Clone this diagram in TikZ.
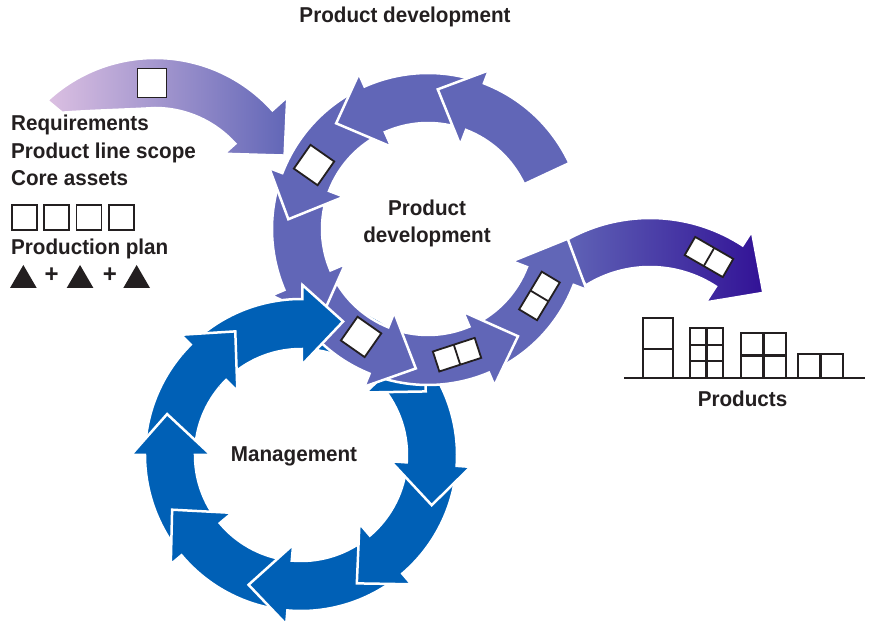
\documentclass[tikz,border=0pt]{standalone}
\usepackage{fontspec}
\setmainfont{Liberation Sans}[FakeStretch=0.96]
\definecolor{devpurple}{HTML}{6166B7}
\definecolor{mgmtblue}{HTML}{0060B6}
\definecolor{inlight}{HTML}{DCC0E2}
\definecolor{outdark}{HTML}{321296}
\definecolor{ink}{HTML}{231F20}

% one arrow piece of a ring: tail angle, head base angle, tip angle, colour
\newcommand{\ringseg}[4]{%
  \filldraw[seg, fill=#4] (#1:156) arc[start angle=#1, end angle=#2, radius=156]
    -- (#2:170) -- (#3:140) -- (#2:90) -- (#2:106)
    arc[start angle=#2, end angle=#1, radius=106] -- cycle;}

\begin{document}
\begin{tikzpicture}[x=1pt, y=1pt,
    seg/.style={draw=white, line width=2.5pt, line join=miter},
    cell/.style={draw=ink, fill=white, line width=1.8pt},
    bar/.style={draw=ink, line width=2.3pt},
    lbl/.style={font=\fontsize{21.5}{27}\selectfont\bfseries, text=ink, inner sep=0pt},
    plus/.style={font=\fontsize{25}{27}\selectfont\bfseries, text=ink, inner sep=0pt},
    sq/.pic={\draw[cell] (-14.5,-14.5) rectangle (14.5,14.5);},
    pair/.pic={\draw[cell] (-22,-10.5) rectangle (22,10.5); \draw[cell] (0,-10.5) -- (0,10.5);}]
  \fill[white] (0,0) rectangle (870,632);
  \useasboundingbox (0,0) rectangle (870,632);

  % management ring, clockwise, the pieces under the other ring
  \begin{scope}[shift={(301,177)}]
    \foreach \t/\b/\e in {176/135/118, 216/180/163, -99/-140/-157, -53.5/-95/-112,
                          -8/-49.5/-66.5, 40/-4/-21, 85.5/44/27}
      \ringseg{\t}{\b}{\e}{mgmtblue};
  \end{scope}

  % incoming arrow
  \begin{scope}[shift={(155,416)}]
    \path[seg, left color=inlight, right color=devpurple]
      (133:158) arc[start angle=133, end angle=42, radius=158]
      -- (42:178) -- (25:143) -- (42:93) -- (42:108)
      arc[start angle=42, end angle=90, radius=108]
      .. controls (105:110) and (120:122) .. (132:139) -- cycle;
    \pic at (-3,133) {sq};
  \end{scope}

  % outgoing arrow
  \begin{scope}[shift={(650,244)}]
    \path[seg, left color=devpurple, right color=outdark]
      (122:170) arc[start angle=122, end angle=57, radius=170]
      -- (57:187) -- (40:148) -- (57:102) -- (57:121)
      arc[start angle=57, end angle=122, radius=121] -- cycle;
  \end{scope}
  \pic[rotate=-30] at (709,375) {pair};

  % product development ring, counter-clockwise
  \begin{scope}[shift={(428,403)}]
    \foreach \t/\b/\e in {297/339/356, 252/293/310, 207/248/265, 163/203/220,
                          118/159/176, 73/114/131, 25/69/86}
      \ringseg{\t}{\b}{\e}{devpurple};
    \pic[rotate=-35] at (150.7:130.7) {sq};
    \pic[rotate=-35] at (238.2:127) {sq};
    \pic[rotate=18] at (283:129) {pair};
    \pic[rotate=59] at (329:130) {pair};
  \end{scope}

  % management ring, the piece over the other ring
  \begin{scope}[shift={(301,177)}]
    \ringseg{131}{89.5}{72.5}{mgmtblue}
    \begin{scope}
      \clip (0,0) -- (105:200) -- (140:200) -- cycle;
      \ringseg{176}{135}{118}{mgmtblue}
    \end{scope}
  \end{scope}

  % texts
  \node[lbl, anchor=base] (title) at (405,609.7) {Product development};
  \node[lbl, anchor=base west] (req) at (11,501.3) {Requirements};
  \node[lbl, anchor=base west] (scope) at (11,473) {Product line scope};
  \node[lbl, anchor=base west] (core) at (11,446) {Core assets};
  \node[lbl, anchor=base west] (plan) at (11,377) {Production plan};
  \node[lbl, align=center] (devlabel) at (427,409) {Product\\development};
  \node[lbl, anchor=base] (mgmtlabel) at (294,170.3) {Management};
  \node[lbl, anchor=base] (products) at (742.5,225.3) {Products};

  % core assets and production plan
  \foreach \i in {0,...,3}
    \draw[cell] (12+32.2*\i,402) rectangle ++(25,25);
  \foreach \x in {10,66.7,123.3}
    \fill[ink] (\x,344) -- ++(26.7,0) -- ++(-13.35,23) -- cycle;
  \node[plus] (plusa) at (51.7,357) {+};
  \node[plus] (plusb) at (110,357) {+};

  % products
  \draw[bar] (624,254) -- (865,254);
  \draw[bar] (643,254) rectangle (673,314) (643,283) -- (673,283);
  \draw[bar] (690,254) rectangle (723,304) (706.5,254) -- (706.5,304)
    (690,270.7) -- (723,270.7) (690,287.3) -- (723,287.3);
  \draw[bar] (741,254) rectangle (786,299) (763.5,254) -- (763.5,299)
    (741,276.5) -- (786,276.5);
  \draw[bar] (798,254) rectangle (843,278) (820.5,254) -- (820.5,278);
\end{tikzpicture}
\end{document}
